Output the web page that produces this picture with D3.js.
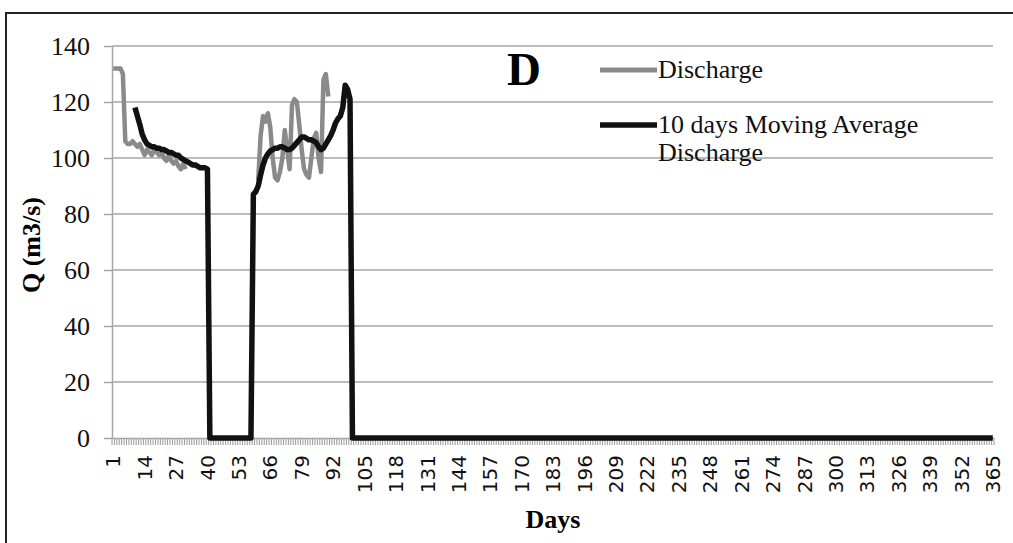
<!DOCTYPE html>
<html>
<head>
<meta charset="utf-8">
<script src="https://cdn.jsdelivr.net/npm/d3@7"></script>
<style>
  body { margin: 0; background: #fff; }
  svg { display: block; }
</style>
</head>
<body>
<div id="chart-area"></div>
<script>
// ---- data ----
var days = d3.range(1, 366);          // category axis 1..365
var labelDays = [1, 14, 27, 40, 53, 66, 79, 92, 105, 118, 131, 144, 157, 170, 183,
                 196, 209, 222, 235, 248, 261, 274, 287, 300, 313, 326, 339, 352, 365];
var yTicks = [0, 20, 40, 60, 80, 100, 120, 140];

// discharge, two observed stretches
var dischargeEarlyStart = 1;
var dischargeEarly = [132, 132, 132, 132, 130, 106, 105, 105, 106, 105, 104, 105, 103, 101, 103,
                      102, 101, 103, 102, 101, 102, 100, 99, 101, 99, 98, 99, 97, 96, 98, 96];
var dischargeLateStart = 61;
var dischargeLate = [92, 108, 115, 113, 116, 111, 100, 93, 92, 95, 100, 110, 103, 96, 119,
                     121, 120, 112, 103, 96, 94, 93, 100, 107, 109, 100, 95, 128, 130, 122];

// 10 days moving average
var maEarlyStart = 10;
var maEarly = [118, 115, 112, 108.5, 106.5, 105, 104.5, 104, 104, 103.5, 103.5, 103, 103, 102.5,
               102, 102, 101.5, 101, 101, 100, 99.5, 99, 98.5, 98, 97.5, 97.5, 97, 96.5, 96.5, 96.5, 96];
var maLateStart = 59;
var maLate = [87, 88, 90, 94, 97.5, 100, 101.5, 102.5, 103, 103.5, 103.5, 104, 104, 103.5, 103,
              103, 103.5, 104.5, 105.5, 106.5, 107.5, 107.5, 107, 106.5, 106.5, 106, 105.5, 104,
              103, 103.5, 105, 106.5, 108, 110, 112.5, 114, 115, 118, 126, 124.5, 121];
var maZeroRuns = [[41, 58], [100, 365]];

function toPoints(start, values) {
    return values.map(function(v, i) { return { day: start + i, value: v }; });
}

var maPoints = toPoints(maEarlyStart, maEarly)
    .concat(maZeroRuns[0].map(function(d) { return { day: d, value: 0 }; }))
    .concat(toPoints(maLateStart, maLate))
    .concat(maZeroRuns[1].map(function(d) { return { day: d, value: 0 }; }));

// ---- drawing ----
var svg = d3.select("#chart-area").append("svg")
    .attr("width", 1013)
    .attr("height", 543);

var serif = "'Liberation Serif', 'Times New Roman', serif";
var gridColor = "#a6a6a6";

svg.append("rect")
    .attr("x", 6).attr("y", 13)
    .attr("width", 1030).attr("height", 560)
    .attr("fill", "#fff")
    .attr("stroke", "#222")
    .attr("stroke-width", 2);

var x = d3.scaleBand().domain(days).range([112, 994]);
var y = d3.scaleLinear().domain([0, 140]).range([438, 46]);
function cx(d) { return x(d) + x.bandwidth() / 2; }

// gridlines
svg.append("g").selectAll("line")
    .data(yTicks.filter(function(v) { return v > 0; }))
    .enter().append("line")
    .attr("x1", 112).attr("x2", 993)
    .attr("y1", function(d) { return y(d); })
    .attr("y2", function(d) { return y(d); })
    .attr("stroke", gridColor)
    .attr("stroke-width", 1.5);

// y axis
var yAxis = svg.append("g")
    .attr("transform", "translate(112,0)")
    .call(d3.axisLeft(y).tickValues(yTicks).tickSize(8).tickSizeOuter(0).tickPadding(14));
yAxis.select(".domain").attr("stroke", gridColor).attr("stroke-width", 1.5);
yAxis.selectAll(".tick line").attr("stroke", gridColor).attr("stroke-width", 1.5);
yAxis.selectAll(".tick text")
    .attr("font-family", serif)
    .attr("font-size", 26)
    .attr("fill", "#111");

// x axis ticks between categories
var tickEdges = days.map(function(d) { return x(d); }).concat([x.range()[1]]);
svg.append("g").selectAll("line")
    .data(tickEdges)
    .enter().append("line")
    .attr("x1", function(d) { return d; })
    .attr("x2", function(d) { return d; })
    .attr("y1", 438).attr("y2", 445)
    .attr("stroke", "#9a9a9a")
    .attr("stroke-width", 1);

var xAxis = svg.append("g")
    .attr("transform", "translate(0,438)")
    .call(d3.axisBottom(x).tickValues(labelDays).tickSize(0).tickSizeOuter(0));
xAxis.select(".domain").attr("stroke", gridColor).attr("stroke-width", 1.5);
xAxis.selectAll(".tick text")
    .attr("font-family", "'DejaVu Sans', sans-serif")
    .attr("font-size", 20)
    .attr("fill", "#111")
    .attr("text-anchor", "end")
    .attr("transform", "rotate(-90)")
    .attr("x", -17)
    .attr("y", 0)
    .attr("dy", "0.36em");

// series
var line = d3.line()
    .x(function(d) { return cx(d.day); })
    .y(function(d) { return y(d.value); });

[toPoints(dischargeEarlyStart, dischargeEarly), toPoints(dischargeLateStart, dischargeLate)]
    .forEach(function(seg) {
        svg.append("path")
            .attr("d", line(seg))
            .attr("fill", "none")
            .attr("stroke", "#8a8a8a")
            .attr("stroke-width", 4.5)
            .attr("stroke-linejoin", "round");
    });

svg.append("path")
    .attr("d", line(maPoints))
    .attr("fill", "none")
    .attr("stroke", "#111")
    .attr("stroke-width", 5.5)
    .attr("stroke-linejoin", "round");

// axis titles
svg.append("text")
    .attr("transform", "translate(40,245) rotate(-90)")
    .attr("text-anchor", "middle")
    .attr("font-family", serif)
    .attr("font-weight", "bold")
    .attr("font-size", 26)
    .text("Q (m3/s)");

svg.append("text")
    .attr("x", 553).attr("y", 528)
    .attr("text-anchor", "middle")
    .attr("font-family", serif)
    .attr("font-weight", "bold")
    .attr("font-size", 26)
    .text("Days");

// panel letter
svg.append("text")
    .attr("x", 507).attr("y", 85)
    .attr("font-family", serif)
    .attr("font-weight", "bold")
    .attr("font-size", 47)
    .text("D");

// legend
var legend = svg.append("g");
var legendRows = [
    { color: "#8a8a8a", width: 5, y: 70, lines: ["Discharge"] },
    { color: "#111", width: 5.5, y: 125, lines: ["10 days Moving Average", "Discharge"] }
];
legendRows.forEach(function(row) {
    legend.append("line")
        .attr("x1", 600).attr("x2", 657)
        .attr("y1", row.y).attr("y2", row.y)
        .attr("stroke", row.color)
        .attr("stroke-width", row.width);
    row.lines.forEach(function(t, i) {
        legend.append("text")
            .attr("x", 658)
            .attr("y", row.y + 8 + i * 28)
            .attr("font-family", serif)
            .attr("font-size", 26)
            .attr("fill", "#111")
            .text(t);
    });
});
</script>
</body>
</html>
